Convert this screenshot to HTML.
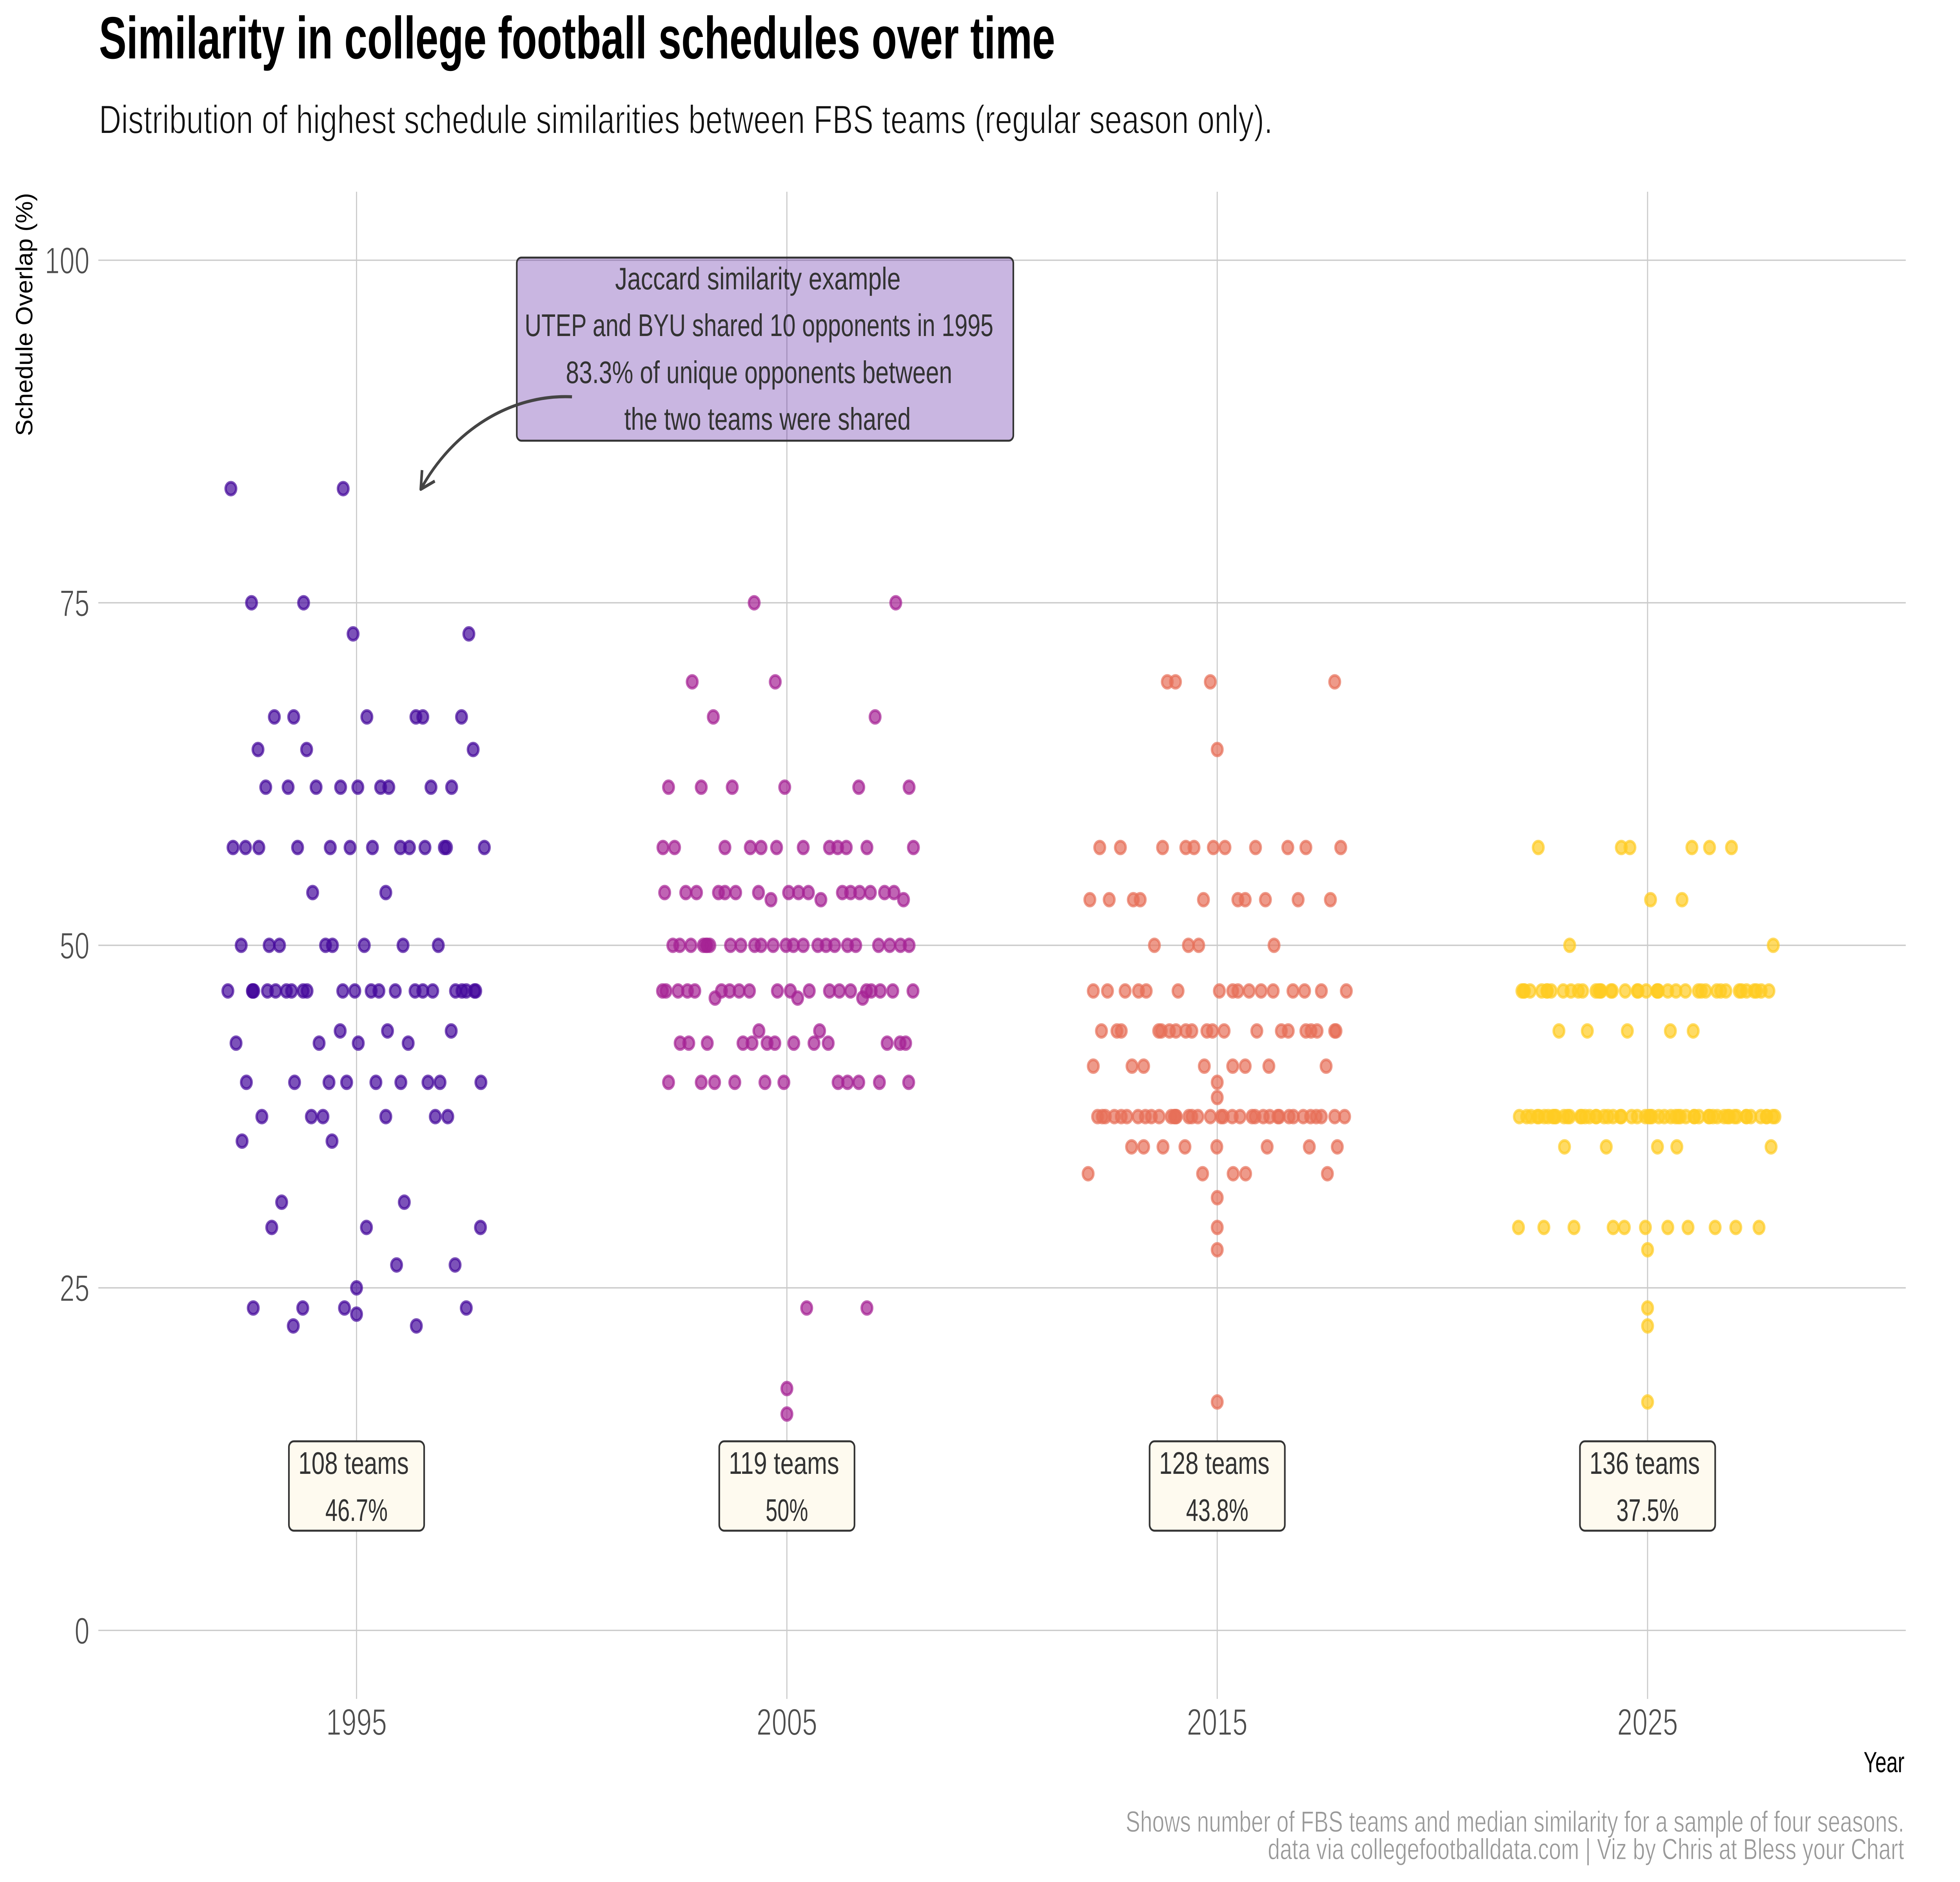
<!DOCTYPE html>
<html lang="en">
<head>
<meta charset="utf-8">
<title>Similarity in college football schedules over time</title>
<style>
  html, body { margin: 0; padding: 0; background: #fff; width: 100%; height: 100%; overflow: hidden; }
  svg { display: block; position: absolute; left: 0; top: 0; width: 100vw; height: 100vh; overflow: hidden; }
  text { font-family: "Liberation Sans Narrow", "Liberation Sans", sans-serif; }
  .thin { stroke: #ffffff; stroke-width: 2; }
  .thin-small { stroke: #ffffff; stroke-width: 1.2; }
</style>
</head>
<body>
<svg id="chart" xmlns="http://www.w3.org/2000/svg" viewBox="0 0 6000 4800" preserveAspectRatio="none">
  <rect x="0" y="0" width="6000" height="4800" fill="#ffffff"/>
  <text x="303" y="149" font-size="152" font-weight="bold" fill="#000000" textLength="2927" lengthAdjust="spacingAndGlyphs">Similarity in college football schedules over time</text>
  <text class="thin" x="303" y="340" font-size="102" fill="#111111" textLength="3593" lengthAdjust="spacingAndGlyphs">Distribution of highest schedule similarities between FBS teams (regular season only).</text>
  <text transform="translate(99 1112) rotate(-90)" x="0" y="0" font-size="72" fill="#000000" textLength="620" lengthAdjust="spacingAndGlyphs">Schedule Overlap (%)</text>
  <text x="5705" y="4520" font-size="74" fill="#000000" textLength="125" lengthAdjust="spacingAndGlyphs">Year</text>
  <g id="grid"></g>
  <g id="axis-labels"></g>
  <g id="points"></g>
  <g id="summaries"></g>
  <g>
    <rect x="1582" y="657" width="1520" height="467" rx="14" ry="14" fill="#4B0C9B" fill-opacity="0.3" stroke="#333333" stroke-width="5"/>
    <text x="1883" y="738" font-size="80" fill="#333333" textLength="874" lengthAdjust="spacingAndGlyphs">Jaccard similarity example</text>
    <text x="1606" y="857" font-size="80" fill="#333333" textLength="1435" lengthAdjust="spacingAndGlyphs">UTEP and BYU shared 10 opponents in 1995</text>
    <text x="1732" y="977" font-size="80" fill="#333333" textLength="1183" lengthAdjust="spacingAndGlyphs">83.3% of unique opponents between</text>
    <text x="1911" y="1096" font-size="80" fill="#333333" textLength="877" lengthAdjust="spacingAndGlyphs">the two teams were shared</text>
    <path d="M1751 1012 C1560 1005 1385 1100 1288 1248" fill="none" stroke="#444444" stroke-width="8"/>
    <path d="M1292 1199 L1288 1248 L1331 1227" fill="none" stroke="#444444" stroke-width="8" stroke-linejoin="round" stroke-linecap="butt"/>
  </g>
  <text class="thin-small" x="3446" y="4672" font-size="75" fill="#999999" textLength="2383" lengthAdjust="spacingAndGlyphs">Shows number of FBS teams and median similarity for a sample of four seasons.</text>
  <text class="thin-small" x="3881" y="4742" font-size="75" fill="#999999" textLength="1948" lengthAdjust="spacingAndGlyphs">data via collegefootballdata.com | Viz by Chris at Bless your Chart</text>
</svg>
<script>
const xTicks = [1995, 2005, 2015, 2025];
const yTicks = [0, 25, 50, 75, 100];
const seasons = [1995, 2005, 2015, 2025];
const teamCounts = [108, 119, 128, 136];
const medianLabels = ['46.7%', '50%', '43.8%', '37.5%'];
const seasonColors = ['#45089B', '#A52294', '#E76F58', '#FFCC22'];

const overlap1995 = [83.33, 75, 72.73, 66.67, 64.29, 61.54, 57.14, 53.85, 50, 46.67, 43.75, 42.86, 40, 37.5, 35.71, 31.25, 29.41, 26.67, 25, 23.53, 23.08, 22.22];
const jitter1995 = [
  [1992.08, 1994.69],
  [1992.56, 1993.77],
  [1994.92, 1997.61],
  [1993.09, 1993.54, 1995.24, 1996.38, 1996.54, 1997.44],
  [1992.71, 1993.84, 1997.71],
  [1992.89, 1993.41, 1994.06, 1994.63, 1995.03, 1995.56, 1995.75, 1996.73, 1997.21],
  [1992.13, 1992.42, 1992.73, 1993.63, 1994.39, 1994.85, 1995.37, 1996.02, 1996.23, 1996.59, 1997.04, 1997.09, 1997.97],
  [1993.98, 1995.68],
  [1992.32, 1992.97, 1993.21, 1994.28, 1994.44, 1995.18, 1996.08, 1996.90],
  [1992.01, 1992.58, 1992.59, 1992.61, 1992.93, 1993.12, 1993.37, 1993.49, 1993.76, 1993.85, 1994.68, 1994.96, 1995.34, 1995.52, 1995.90, 1996.36, 1996.54, 1996.77, 1997.30, 1997.45, 1997.55, 1997.74, 1997.77],
  [1994.62, 1995.72, 1997.20],
  [1992.20, 1994.13, 1995.04, 1996.20],
  [1992.44, 1993.56, 1994.36, 1994.77, 1995.45, 1996.03, 1996.66, 1996.94, 1997.89],
  [1992.80, 1993.95, 1994.22, 1995.68, 1996.83, 1997.12],
  [1992.34, 1994.43],
  [1993.26, 1996.11],
  [1993.03, 1995.23, 1997.88],
  [1995.93, 1997.29],
  [1995.00],
  [1992.60, 1993.75, 1994.72, 1997.55],
  [1995.00],
  [1993.53, 1996.39]
];

const overlap2005 = [75, 69.23, 66.67, 61.54, 57.14, 53.85, 53.33, 50, 46.67, 46.15, 43.75, 42.86, 40, 23.53, 17.65, 15.79];
const jitter2005 = [
  [2004.24, 2007.53],
  [2002.80, 2004.73],
  [2003.29, 2007.05],
  [2002.25, 2003.01, 2003.73, 2004.95, 2006.67, 2007.84],
  [2002.12, 2002.39, 2003.56, 2004.15, 2004.40, 2004.76, 2005.38, 2005.99, 2006.18, 2006.38, 2006.86, 2007.94],
  [2002.16, 2002.65, 2002.90, 2003.41, 2003.56, 2003.81, 2004.34, 2005.04, 2005.27, 2005.50, 2006.29, 2006.48, 2006.69, 2006.94, 2007.27, 2007.49],
  [2004.63, 2005.79, 2007.71],
  [2002.35, 2002.51, 2002.77, 2003.06, 2003.12, 2003.15, 2003.21, 2003.69, 2003.93, 2004.25, 2004.40, 2004.68, 2004.98, 2005.15, 2005.38, 2005.72, 2005.91, 2006.11, 2006.41, 2006.60, 2007.13, 2007.39, 2007.64, 2007.84],
  [2002.11, 2002.19, 2002.47, 2002.69, 2002.86, 2003.48, 2003.67, 2003.89, 2004.13, 2004.78, 2005.08, 2005.52, 2005.99, 2006.22, 2006.48, 2006.85, 2006.96, 2007.17, 2007.46, 2007.93],
  [2003.33, 2005.25, 2006.76],
  [2004.35, 2005.76],
  [2002.52, 2002.72, 2003.15, 2003.98, 2004.19, 2004.54, 2004.72, 2005.16, 2005.63, 2005.96, 2007.33, 2007.63, 2007.76],
  [2002.25, 2003.01, 2003.32, 2003.79, 2004.49, 2004.93, 2006.19, 2006.41, 2006.67, 2007.15, 2007.83],
  [2005.46, 2006.86],
  [2005.00],
  [2005.00]
];

const overlap2015 = [69.23, 64.29, 57.14, 53.33, 50, 46.67, 43.75, 41.18, 40, 38.89, 37.5, 35.29, 33.33, 31.58, 29.41, 27.78, 16.67];
const jitter2015 = [
  [2013.84, 2014.03, 2014.84, 2017.73],
  [2015.00],
  [2012.27, 2012.75, 2013.73, 2014.27, 2014.46, 2014.91, 2015.18, 2015.89, 2016.64, 2017.06, 2017.87],
  [2012.04, 2012.49, 2013.05, 2013.21, 2014.68, 2015.48, 2015.65, 2016.12, 2016.88, 2017.63],
  [2013.54, 2014.33, 2014.57, 2016.32],
  [2012.12, 2012.45, 2012.86, 2013.17, 2013.35, 2014.09, 2015.05, 2015.36, 2015.48, 2015.74, 2016.02, 2016.30, 2016.76, 2017.03, 2017.42, 2018.00],
  [2012.31, 2012.67, 2012.77, 2013.64, 2013.70, 2013.89, 2014.04, 2014.27, 2014.41, 2014.76, 2014.89, 2015.16, 2015.92, 2016.49, 2016.65, 2017.06, 2017.18, 2017.32, 2017.73, 2017.76],
  [2012.12, 2013.02, 2013.29, 2014.70, 2015.36, 2015.65, 2016.20, 2017.53],
  [2015.00],
  [2015.00],
  [2012.22, 2012.33, 2012.40, 2012.61, 2012.77, 2012.90, 2013.16, 2013.33, 2013.47, 2013.65, 2013.93, 2014.00, 2014.03, 2014.05, 2014.34, 2014.41, 2014.55, 2014.84, 2015.09, 2015.14, 2015.35, 2015.53, 2015.81, 2015.88, 2016.07, 2016.22, 2016.41, 2016.44, 2016.67, 2016.77, 2017.00, 2017.17, 2017.30, 2017.42, 2017.73, 2017.96],
  [2013.01, 2013.29, 2013.74, 2014.25, 2014.99, 2016.16, 2017.14, 2017.79],
  [2012.00, 2014.66, 2015.37, 2015.66, 2017.56],
  [2015.00],
  [2015.00],
  [2015.00],
  [2015.00]
];

const overlap2025 = [57.14, 53.33, 50, 46.67, 43.75, 37.5, 35.29, 29.41, 27.78, 23.53, 22.22, 16.67];
const jitter2025 = [
  [2022.46, 2024.39, 2024.59, 2026.03, 2026.44, 2026.95],
  [2025.07, 2025.80],
  [2023.19, 2027.92],
  [2022.08, 2022.12, 2022.14, 2022.27, 2022.54, 2022.66, 2022.67, 2022.76, 2023.04, 2023.22, 2023.39, 2023.49, 2023.80, 2023.86, 2023.90, 2023.92, 2024.15, 2024.18, 2024.48, 2024.76, 2024.78, 2024.97, 2025.22, 2025.23, 2025.25, 2025.47, 2025.66, 2025.88, 2026.18, 2026.25, 2026.35, 2026.61, 2026.70, 2026.82, 2027.13, 2027.18, 2027.30, 2027.48, 2027.53, 2027.64, 2027.82],
  [2022.94, 2023.60, 2024.53, 2025.53, 2026.06],
  [2022.02, 2022.19, 2022.29, 2022.44, 2022.47, 2022.60, 2022.69, 2022.80, 2022.84, 2022.87, 2023.06, 2023.14, 2023.19, 2023.44, 2023.47, 2023.55, 2023.65, 2023.80, 2023.81, 2023.99, 2024.08, 2024.20, 2024.37, 2024.39, 2024.63, 2024.76, 2024.95, 2025.03, 2025.06, 2025.10, 2025.26, 2025.39, 2025.54, 2025.65, 2025.71, 2025.76, 2025.89, 2026.08, 2026.09, 2026.19, 2026.42, 2026.44, 2026.52, 2026.62, 2026.78, 2026.86, 2026.90, 2027.02, 2027.07, 2027.29, 2027.30, 2027.40, 2027.63, 2027.76, 2027.77, 2027.91, 2027.96],
  [2023.07, 2024.04, 2025.23, 2025.68, 2027.87],
  [2022.00, 2022.59, 2023.29, 2024.20, 2024.46, 2024.95, 2025.47, 2025.94, 2026.57, 2027.05, 2027.59],
  [2025.00],
  [2025.00],
  [2025.00],
  [2025.00]
];

const overlapBySeason = [overlap1995, overlap2005, overlap2015, overlap2025];
const jitterBySeason = [jitter1995, jitter2005, jitter2015, jitter2025];

const SVG_NS = 'http://www.w3.org/2000/svg';
const PANEL = { left: 301, right: 5834, top: 489, bottom: 4333 };
const X_DOMAIN = [1989, 2031];
const Y_DOMAIN = [-5, 105];

function xScale(year) {
  return PANEL.left + (year - X_DOMAIN[0]) / (X_DOMAIN[1] - X_DOMAIN[0]) * (PANEL.right - PANEL.left);
}
function yScale(value) {
  return PANEL.bottom - (value - Y_DOMAIN[0]) / (Y_DOMAIN[1] - Y_DOMAIN[0]) * (PANEL.bottom - PANEL.top);
}
function make(tag, attrs, parent) {
  const el = document.createElementNS(SVG_NS, tag);
  Object.keys(attrs).forEach(function (key) { el.setAttribute(key, attrs[key]); });
  parent.appendChild(el);
  return el;
}

const gridGroup = document.getElementById('grid');
const labelGroup = document.getElementById('axis-labels');
const pointGroup = document.getElementById('points');
const summaryGroup = document.getElementById('summaries');

yTicks.forEach(function (tick) {
  const line = make('line', { x1: PANEL.left, x2: PANEL.right, y1: yScale(tick), y2: yScale(tick), stroke: '#cbcbcb', 'stroke-width': 3.4 }, gridGroup);
  
  
  const label = make('text', { class: 'thin', x: 274, y: yScale(tick) + 34, 'text-anchor': 'end', 'font-size': 96, fill: '#4d4d4d', textLength: String(tick).length * 45.7, lengthAdjust: 'spacingAndGlyphs' }, labelGroup);
  
  
  label.textContent = String(tick);
});

xTicks.forEach(function (tick) {
  const line = make('line', { x1: xScale(tick), x2: xScale(tick), y1: PANEL.top, y2: PANEL.bottom, stroke: '#cbcbcb', 'stroke-width': 3.4 }, gridGroup);
  
  
  const label = make('text', { class: 'thin', x: xScale(tick), y: 4425, 'text-anchor': 'middle', 'font-size': 96, fill: '#4d4d4d', textLength: 186, lengthAdjust: 'spacingAndGlyphs' }, labelGroup);
  
  
  label.textContent = String(tick);
});

seasons.forEach(function (season, s) {
  const group = make('g', {}, pointGroup);
  
  
  overlapBySeason[s].forEach(function (value, row) {
    jitterBySeason[s][row].forEach(function (year) {
      const point = make('circle', { cx: xScale(year), cy: yScale(value), r: 16.2, fill: seasonColors[s], 'fill-opacity': 0.7, stroke: seasonColors[s], 'stroke-opacity': 0.7, 'stroke-width': 7.2 }, group);
      
      
    });
  });
});

seasons.forEach(function (season, s) {
  const center = xScale(season);
  const box = make('rect', { x: center - 207, y: 3676, width: 414, height: 228, rx: 15, ry: 15, fill: '#FEFAEF', stroke: '#333333', 'stroke-width': 5 }, summaryGroup);
  
  
  const teams = make('text', { x: center - 9, y: 3759, 'text-anchor': 'middle', 'font-size': 80, fill: '#333333', textLength: 338, lengthAdjust: 'spacingAndGlyphs' }, summaryGroup);
  
  
  teams.textContent = teamCounts[s] + ' teams';
  const median = make('text', { x: center, y: 3879, 'text-anchor': 'middle', 'font-size': 80, fill: '#333333', textLength: medianLabels[s].length === 3 ? 130 : 191, lengthAdjust: 'spacingAndGlyphs' }, summaryGroup);
  
  
  median.textContent = medianLabels[s];
});
</script>
</body>
</html>
